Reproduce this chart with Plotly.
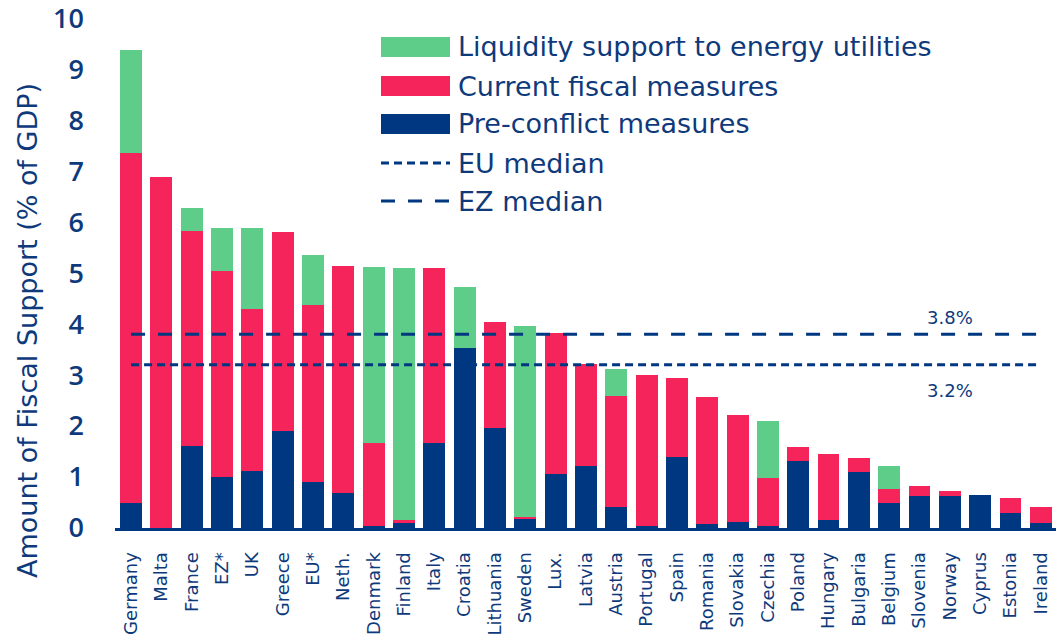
import plotly.graph_objects as go

countries = ["Germany", "Malta", "France", "EZ*", "UK", "Greece", "EU*", "Neth.", "Denmark", "Finland",
             "Italy", "Croatia", "Lithuania", "Sweden", "Lux.", "Latvia", "Austria", "Portugal", "Spain",
             "Romania", "Slovakia", "Czechia", "Poland", "Hungary", "Bulgaria", "Belgium", "Slovenia",
             "Norway", "Cyprus", "Estonia", "Ireland"]
pre_conflict = [0.49, 0.0, 1.61, 1.00, 1.11, 1.91, 0.91, 0.69, 0.03, 0.09,
                1.67, 3.53, 1.97, 0.18, 1.06, 1.21, 0.41, 0.03, 1.39,
                0.08, 0.12, 0.03, 1.31, 0.16, 1.09, 0.49, 0.63,
                0.63, 0.65, 0.29, 0.09]
current_fiscal = [6.86, 6.89, 4.22, 4.05, 3.19, 3.89, 3.47, 4.44, 1.64, 0.07,
                  3.43, 0.0, 2.07, 0.04, 2.76, 2.00, 2.18, 2.98, 1.55,
                  2.49, 2.10, 0.96, 0.28, 1.30, 0.28, 0.28, 0.20,
                  0.10, 0.0, 0.29, 0.32]
liquidity = [2.02, 0.0, 0.45, 0.83, 1.58, 0.0, 0.97, 0.0, 3.45, 4.94,
             0.0, 1.19, 0.0, 3.75, 0.0, 0.0, 0.53, 0.0, 0.0,
             0.0, 0.0, 1.10, 0.0, 0.0, 0.0, 0.44, 0.0,
             0.0, 0.0, 0.0, 0.0]
eu_median = 3.2
ez_median = 3.8
series_names = ["Liquidity support to energy utilities", "Current fiscal measures", "Pre-conflict measures",
                "EU median", "EZ median"]
median_labels = ["3.2%", "3.8%"]
y_title = "Amount of Fiscal Support (% of GDP)"
y_ticks = [0, 1, 2, 3, 4, 5, 6, 7, 8, 9, 10]

GREEN = "#5ECD89"
RED = "#F5245A"
NAVY = "#003781"
TEXT = "#0E3A7C"
FONT = "Open Sans"
WIDE = "DejaVu Sans"
EU_DASH = "8px,5px"
EZ_DASH = "14px,13px"

fig = go.Figure()
fig.add_trace(go.Bar(x=countries, y=pre_conflict, name=series_names[2], marker=dict(color=NAVY, line=dict(width=0)), showlegend=False))
fig.add_trace(go.Bar(x=countries, y=current_fiscal, name=series_names[1], marker=dict(color=RED, line=dict(width=0)), showlegend=False))
fig.add_trace(go.Bar(x=countries, y=liquidity, name=series_names[0], marker=dict(color=GREEN, line=dict(width=0)), showlegend=False))
fig.add_trace(go.Scatter(x=[countries[0], countries[-1]], y=[eu_median, eu_median], mode="lines",
                         line=dict(color=NAVY, width=3, dash=EU_DASH), name=series_names[3], showlegend=False))
fig.add_trace(go.Scatter(x=[countries[0], countries[-1]], y=[ez_median, ez_median], mode="lines",
                         line=dict(color=NAVY, width=3, dash=EZ_DASH), name=series_names[4], showlegend=False))

# plot area in pixels
L, R, T, B = 115, 1056, 8, 528
W, H = R - L, B - T
def px(x):
    return (x - L) / W
def py(y):
    return (B - y) / H

shapes = []
annotations = []
# custom legend
rows = [(series_names[0], GREEN, 47, "rect", None),
        (series_names[1], RED, 86, "rect", None),
        (series_names[2], NAVY, 124, "rect", None),
        (series_names[3], NAVY, 163, "line", EU_DASH),
        (series_names[4], NAVY, 201, "line", EZ_DASH)]
for name, col, yc, kind, dash in rows:
    if kind == "rect":
        shapes.append(dict(type="rect", xref="paper", yref="paper", x0=px(381), x1=px(450),
                           y0=py(yc - 10), y1=py(yc + 10), fillcolor=col, line=dict(width=0), layer="above"))
    else:
        shapes.append(dict(type="line", xref="paper", yref="paper", x0=px(381), x1=px(450),
                           y0=py(yc), y1=py(yc), line=dict(color=col, width=3, dash=dash)))
    annotations.append(dict(text=name, xref="paper", yref="paper", x=px(456), y=py(yc), xanchor="left",
                            yanchor="middle", showarrow=False, font=dict(family=WIDE, size=27, color=TEXT)))

annotations.append(dict(text=median_labels[1], x="Norway", y=ez_median, xref="x", yref="y", yshift=17,
                        showarrow=False, font=dict(family=WIDE, size=18, color=TEXT)))
annotations.append(dict(text=median_labels[0], x="Norway", y=eu_median, xref="x", yref="y", yshift=-26,
                        showarrow=False, font=dict(family=WIDE, size=18, color=TEXT)))
# y-axis title
annotations.append(dict(text=y_title, xref="paper", yref="paper", x=px(27), y=py(331), textangle=-90,
                        xanchor="center", yanchor="middle", showarrow=False,
                        font=dict(family=WIDE, size=27, color=TEXT)))

fig.update_layout(
    barmode="stack",
    bargap=0.28,
    width=1056, height=642,
    margin=dict(l=L, r=1056 - R, t=T, b=642 - B, pad=0, autoexpand=False),
    paper_bgcolor="white", plot_bgcolor="white",
    shapes=shapes, annotations=annotations,
    showlegend=False,
    font=dict(family=FONT, color=TEXT),
)
fig.update_xaxes(range=[-0.53, 30.5], showgrid=False, showline=True, linecolor=NAVY, linewidth=3,
                 tickangle=-90, ticks="", tickfont=dict(family=WIDE, size=18, color=TEXT),
                 ticklabelstandoff=14, zeroline=False, automargin=False)
fig.update_yaxes(range=[0, 10.2], tickmode="array", tickvals=y_ticks, showgrid=False, showline=False,
                 zeroline=False, ticks="", ticklabeloverflow="allow",
                 tickfont=dict(family=FONT, size=27, color=TEXT, weight=600), ticklabelstandoff=30,
                 automargin=False)

fig.write_html("out.html", config={"displayModeBar": False},
               post_script="document.body.style.margin='0';document.body.style.overflow='hidden';")
